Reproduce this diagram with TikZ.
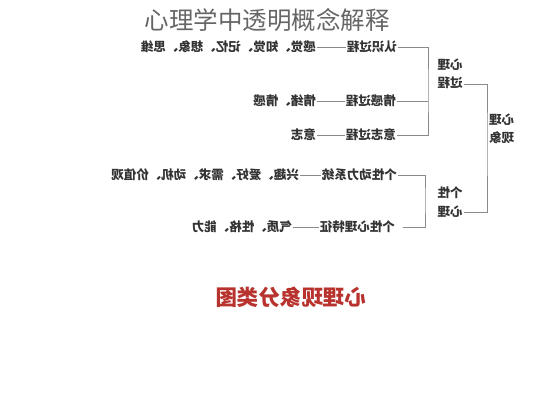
\documentclass[tikz,border=0pt]{standalone}
\usepackage{fontspec}
\newfontfamily\cjk{Noto Sans CJK SC}
\usepackage{xcolor}
\usepackage{tikz}
\usetikzlibrary{positioning}

\definecolor{linegray}{HTML}{8A8A8A}
\definecolor{captionred}{HTML}{B8322E}

\begin{document}
\begin{tikzpicture}[x=1pt, y=-1pt]
    \tikzstyle{item} = [font=\cjk\bfseries\fontsize{12.5}{15}\selectfont, inner sep=1pt, anchor=west, text=black!80]
    \tikzstyle{label} = [font=\cjk\bfseries\fontsize{12.5}{18.5}\selectfont, inner sep=1pt, align=center, text=black!80]
    \tikzstyle{line} = [draw=linegray, line width=0.8pt]

    \useasboundingbox (0,0) rectangle (533,400);
    \fill[white] (0,0) rectangle (533,400);

    \node (title) at (267,20) [font=\cjk\fontsize{24.5}{26}\selectfont, text=black!60] {心理学中透明概念解释};

    % the chart itself is printed mirror-wise
    \begin{scope}[shift={(533,0)}, xscale=-1, transform shape]
    \node (xianxiang) [label] at (31.5,129) {心理\\现象};
    \node (guocheng) [label] at (83,74) {心理\\过程};
    \node (gexing) [label] at (83,202) {个性\\心理};

    \node (renshi) [item] at (135,47) {认识过程};
    \node (ganjue) [item] at (216,47) {感觉、知觉、记忆、想象、思维};
    \node (qinggan) [item] at (136,101) {情感过程};
    \node (qingxu) [item] at (216,101) {情绪、情感};
    \node (yizhi) [item] at (136,135) {意志过程};
    \node (yizhi2) [item] at (216,135) {意志};

    \node (dongli) [item] at (135,175) {个性动力系统};
    \node (xingqu) [item] at (233,175) {兴趣、爱好、需求、动机、价值观};
    \node (tezheng) [item] at (137,227) {个性心理特征};
    \node (qizhi) [item] at (240,227) {气质、性格、能力};

    \node (caption) at (242,297) [font=\cjk\bfseries\fontsize{21.5}{24}\selectfont, text=captionred] {心理现象分类图};

    \coordinate (bk1) at (46,140);
    \coordinate (bk2) at (105,90);
    \coordinate (bk3) at (108,200);

    \draw [line] ([yshift=6pt]guocheng.south west) -| (bk1) |- ([yshift=6pt]gexing.south west);
    \draw [line] (renshi.west) -| (bk2) |- (yizhi.west);
    \draw [line] (qinggan.west) -- (qinggan.west -| bk2);
    \draw [line] (dongli.west) -| (bk3) |- ([xshift=-7pt]tezheng.west);

    \draw [line] (renshi) -- (ganjue);
    \draw [line] (qinggan) -- (qingxu);
    \draw [line] (yizhi) -- (yizhi2);
    \draw [line] (dongli) -- (xingqu);
    \draw [line] (tezheng) -- (qizhi);
    \end{scope}
\end{tikzpicture}
\end{document}
